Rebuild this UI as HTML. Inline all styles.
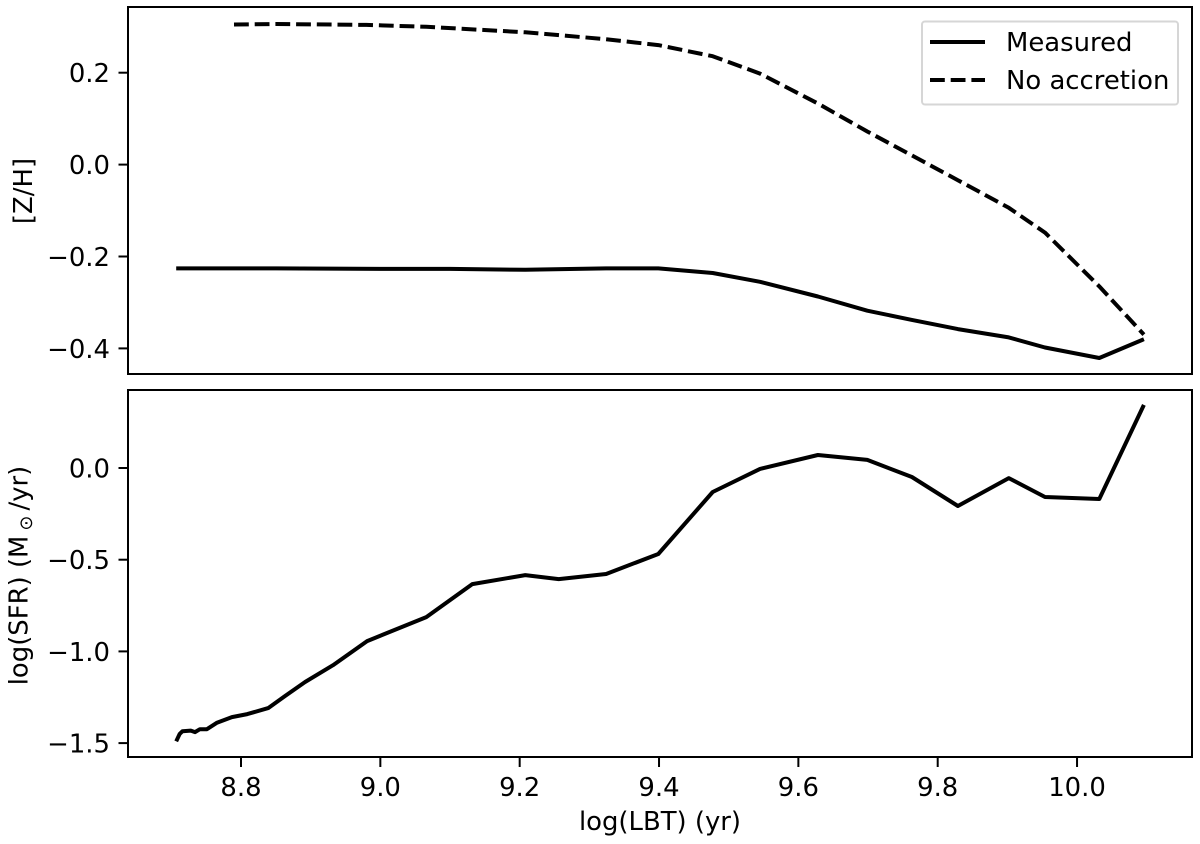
<!DOCTYPE html>
<html lang="en">
<head>
<meta charset="utf-8">
<title>Metallicity and SFR vs lookback time</title>
<style>
html,body{margin:0;padding:0;background:#fff;width:1200px;height:844px;overflow:hidden}
svg{display:block;font-family:"DejaVu Sans","Liberation Sans",sans-serif;fill:#000}
text{font-size:25.9px}
</style>
</head>
<body>
<svg id="chart" xmlns="http://www.w3.org/2000/svg" width="1200" height="844" viewBox="0 0 1200 844">
  <g id="marks-top"></g>
  <g id="marks-bottom"></g>
  <rect x="128" y="7" width="1064" height="367" fill="none" stroke="#000" stroke-width="2"/>
  <rect x="128" y="390" width="1064" height="367" fill="none" stroke="#000" stroke-width="2"/>
  <g id="ticks"></g>
  <text text-anchor="middle" transform="translate(32,191) rotate(-90)">[Z/H]</text>
  <text text-anchor="middle" transform="translate(27.5,575.5) rotate(-90)">log(SFR) (M<tspan style="font-size:18px" dx="5" dy="4.5">⊙</tspan><tspan dx="5" dy="-4.5">/yr)</tspan></text>
  <text text-anchor="middle" x="660" y="830">log(LBT) (yr)</text>
  <g>
    <rect x="922" y="21.5" width="256" height="83" rx="3" fill="#fff" fill-opacity="0.8" stroke="#d6d6d6" stroke-width="2"/>
    <line x1="930" x2="985" y1="42" y2="42" stroke="#000" stroke-width="4"/>
    <text x="1006" y="51">Measured</text>
    <line x1="930" x2="985" y1="80" y2="80" stroke="#000" stroke-width="4" stroke-dasharray="14.8 5.9"/>
    <text x="1006" y="89">No accretion</text>
  </g>
</svg>
<script>
const lbtFull = [8.707,8.712,8.716,8.728,8.734,8.741,8.751,8.765,8.787,8.809,8.839,8.863,8.892,8.932,8.981,9.066,9.132,9.208,9.256,9.324,9.399,9.477,9.545,9.628,9.699,9.763,9.829,9.902,9.954,10.032,10.096];
const sfrValues = [-1.49,-1.45,-1.435,-1.432,-1.44,-1.424,-1.424,-1.39,-1.358,-1.342,-1.309,-1.244,-1.167,-1.075,-0.944,-0.813,-0.633,-0.584,-0.606,-0.578,-0.469,-0.131,-0.005,0.071,0.044,-0.049,-0.207,-0.055,-0.158,-0.169,0.344];
const lbtMeasured = [8.707,8.85,9.0,9.1,9.208,9.324,9.399,9.477,9.545,9.628,9.699,9.763,9.829,9.902,9.954,10.032,10.096];
const zhMeasured = [-0.226,-0.226,-0.227,-0.227,-0.229,-0.226,-0.226,-0.236,-0.255,-0.287,-0.318,-0.338,-0.358,-0.376,-0.398,-0.421,-0.38];
const lbtNoAccretion = [8.79,8.85,8.98,9.066,9.208,9.324,9.399,9.477,9.545,9.628,9.699,9.763,9.829,9.902,9.954,10.032,10.096];
const zhNoAccretion = [0.305,0.306,0.304,0.3,0.288,0.273,0.26,0.236,0.198,0.133,0.072,0.02,-0.034,-0.094,-0.148,-0.265,-0.37];
const xTickValues = [8.8,9.0,9.2,9.4,9.6,9.8,10.0];
const xTickLabels = ['8.8','9.0','9.2','9.4','9.6','9.8','10.0'];
const topTickValues = [0.2,0,-0.2,-0.4];
const topTickLabels = ['0.2','0.0','−0.2','−0.4'];
const bottomTickValues = [0,-0.5,-1,-1.5];
const bottomTickLabels = ['0.0','−0.5','−1.0','−1.5'];

const NS = 'http://www.w3.org/2000/svg';
function xScale(v){ return 241 + (v - 8.8) * 696.7; }
function yTop(v){ return 164.6 - v * 459.5; }
function yBottom(v){ return 468 - v * 183.4; }

function makeLine(xs, ys, yFn, dash){
  const el = document.createElementNS(NS, 'polyline');
  el.setAttribute('points', xs.map((x, i) => xScale(x).toFixed(1) + ',' + yFn(ys[i]).toFixed(1)).join(' '));
  el.setAttribute('fill', 'none');
  el.setAttribute('stroke', '#000');
  el.setAttribute('stroke-width', '4');
  el.setAttribute('stroke-linejoin', 'round');
  if (dash) el.setAttribute('stroke-dasharray', dash);
  return el;
}

const topGroup = document.getElementById('marks-top');
const bottomGroup = document.getElementById('marks-bottom');
const tickGroup = document.getElementById('ticks');

const measuredLine = makeLine(lbtMeasured, zhMeasured, yTop);


topGroup.appendChild(measuredLine);

const noAccretionLine = makeLine(lbtNoAccretion, zhNoAccretion, yTop, '14.8 5.9');


topGroup.appendChild(noAccretionLine);

const sfrLine = makeLine(lbtFull, sfrValues, yBottom);


bottomGroup.appendChild(sfrLine);

function tickMark(x1, y1, x2, y2){
  const t = document.createElementNS(NS, 'line');
  t.setAttribute('x1', x1);
  t.setAttribute('y1', y1);
  t.setAttribute('x2', x2);
  t.setAttribute('y2', y2);
  t.setAttribute('stroke', '#000');
  t.setAttribute('stroke-width', '2');
  
  
  tickGroup.appendChild(t);
}
function tickText(x, y, anchor, str){
  const t = document.createElementNS(NS, 'text');
  t.setAttribute('x', x);
  t.setAttribute('y', y);
  t.setAttribute('text-anchor', anchor);
  
  
  t.textContent = str;
  tickGroup.appendChild(t);
}

xTickValues.forEach((v, i) => {
  const x = xScale(v);
  tickMark(x, 757, x, 767);
  tickText(x, 796, 'middle', xTickLabels[i]);
});
topTickValues.forEach((v, i) => {
  const y = yTop(v);
  tickMark(118.5, y, 128, y);
  tickText(110, y + 9.5, 'end', topTickLabels[i]);
});
bottomTickValues.forEach((v, i) => {
  const y = yBottom(v);
  tickMark(118.5, y, 128, y);
  tickText(110, y + 9.5, 'end', bottomTickLabels[i]);
});
</script>
</body>
</html>
